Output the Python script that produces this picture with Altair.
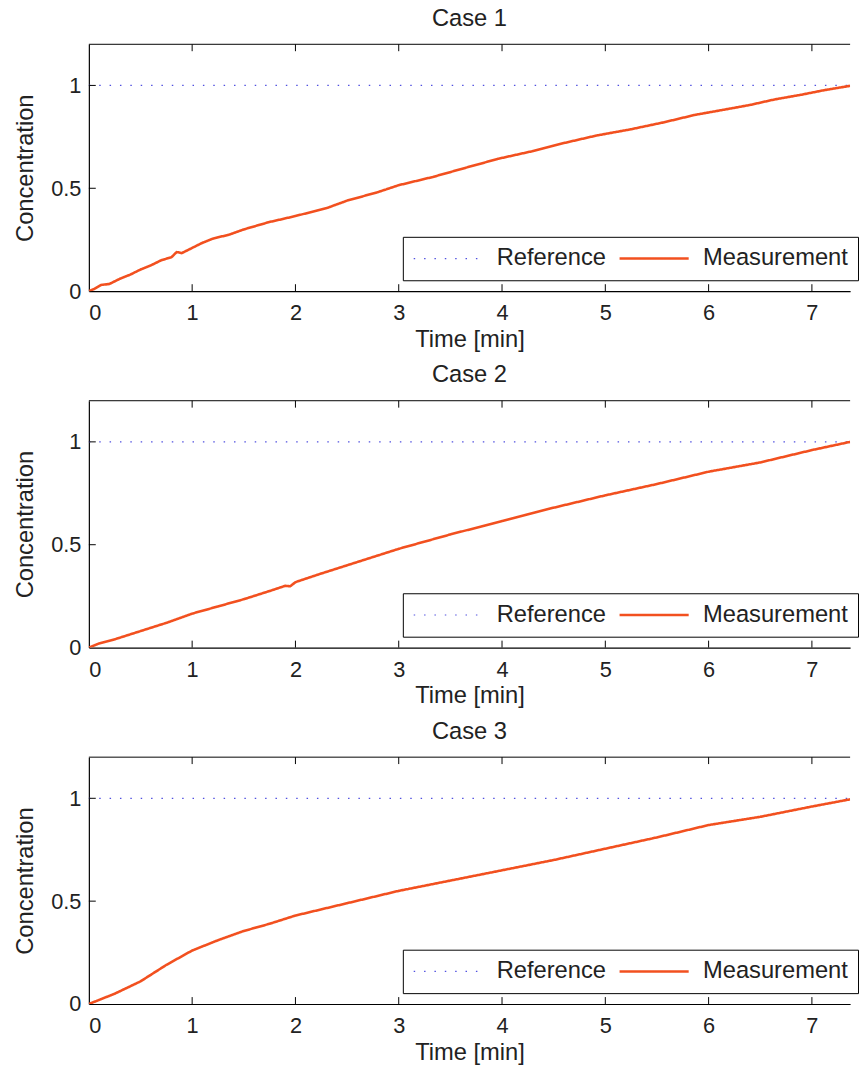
import altair as alt
import pandas as pd

# ---- data ----
case_titles = ["Case 1", "Case 2", "Case 3"]
series_names = ["Reference", "Measurement"]
ref_level = 1.0
x_ticks = [0, 1, 2, 3, 4, 5, 6, 7]
y_ticks = [0, 0.5, 1]
X_MAX = 7.37
Y_MAX = 1.2

t1 = [0, 0.05, 0.12, 0.2, 0.3, 0.4, 0.5, 0.6, 0.7, 0.8, 0.85, 0.9, 1.0, 1.1, 1.2, 1.36, 1.5,
      1.74, 2.0, 2.31, 2.5, 2.79, 3.0, 3.33, 3.65, 3.96, 4.29, 4.6, 4.92, 5.24, 5.56, 5.87,
      6.16, 6.4, 6.64, 6.9, 7.12, 7.37]
c1 = [0, 0.01, 0.03, 0.035, 0.06, 0.08, 0.105, 0.125, 0.15, 0.165, 0.19, 0.185, 0.21, 0.235,
      0.255, 0.275, 0.30, 0.335, 0.365, 0.405, 0.44, 0.48, 0.515, 0.555, 0.60, 0.643, 0.68,
      0.72, 0.757, 0.786, 0.82, 0.857, 0.883, 0.905, 0.932, 0.955, 0.977, 0.998]

t2 = [0, 0.1, 0.25, 0.5, 0.75, 1.0, 1.25, 1.5, 1.75, 1.9, 1.95, 2.0, 2.25, 2.5, 2.75, 3.0,
      3.5, 4.0, 4.5, 5.0, 5.5, 6.0, 6.5, 7.0, 7.37]
c2 = [0, 0.02, 0.04, 0.08, 0.12, 0.165, 0.20, 0.235, 0.275, 0.30, 0.298, 0.318, 0.36, 0.40,
      0.44, 0.48, 0.55, 0.615, 0.68, 0.74, 0.795, 0.855, 0.90, 0.96, 1.0]

t3 = [0, 0.1, 0.25, 0.5, 0.75, 1.0, 1.25, 1.5, 1.75, 2.0, 2.5, 3.0, 3.5, 4.0, 4.5, 5.0,
      5.5, 6.0, 6.5, 7.0, 7.37]
c3 = [0, 0.02, 0.05, 0.11, 0.19, 0.26, 0.31, 0.355, 0.39, 0.43, 0.49, 0.55, 0.60, 0.65,
      0.70, 0.755, 0.81, 0.87, 0.91, 0.96, 0.995]

REF_COLOR = "#5050e0"
MEAS_COLOR = "#f2501f"
FONT = "Liberation Sans"
W, H = 771, 250
TICK = 7


def panel(title, t, c):
    rows = [{"t": 0.0, "v": ref_level, "s": series_names[0]},
            {"t": X_MAX, "v": ref_level, "s": series_names[0]}]
    rows += [{"t": a, "v": b, "s": series_names[1]} for a, b in zip(t, c)]
    df = pd.DataFrame(rows)

    xs = alt.Scale(domain=[0, X_MAX], nice=False, zero=False)
    ys = alt.Scale(domain=[0, Y_MAX], nice=False)
    x_enc = alt.X("t:Q", scale=xs,
                  axis=alt.Axis(values=x_ticks, format="d", title="Time [min]"))
    y_enc = alt.Y("v:Q", scale=ys,
                  axis=alt.Axis(values=y_ticks, format="~g", title="Concentration"))

    leg = dict(title=None, orient="none", legendX=318, legendY=195,
               direction="horizontal", symbolType="stroke", symbolSize=4900,
               clipHeight=24,
               fillColor="white", strokeColor="black", padding=10,
               labelFontSize=24, labelFont=FONT, labelColor="#222222",
               labelOffset=13, columnPadding=12, labelLimit=400)

    lines = alt.Chart(df).mark_line(clip=True).encode(
        x=x_enc, y=y_enc,
        color=alt.Color("s:N", scale=alt.Scale(domain=series_names, range=[REF_COLOR, MEAS_COLOR]),
                        legend=alt.Legend(**leg)),
        strokeDash=alt.StrokeDash("s:N", scale=alt.Scale(domain=series_names, range=[[1.5, 9], [1, 0]]),
                                  legend=alt.Legend(**leg)),
        strokeWidth=alt.StrokeWidth("s:N", scale=alt.Scale(domain=series_names, range=[1.2, 2.6]),
                                    legend=alt.Legend(**leg)),
    )

    bt = pd.DataFrame({"t": x_ticks[1:]})
    bottom_ticks = alt.Chart(bt).mark_rule(color="black", strokeWidth=1).encode(
        x=x_enc, y=alt.value(H), y2=alt.value(H - TICK))
    top_ticks = alt.Chart(bt).mark_rule(color="black", strokeWidth=1).encode(
        x=x_enc, y=alt.value(0), y2=alt.value(TICK))
    lt = pd.DataFrame({"v": y_ticks[1:]})
    left_ticks = alt.Chart(lt).mark_rule(color="black", strokeWidth=1).encode(
        y=y_enc, x=alt.value(0), x2=alt.value(TICK))
    top_border = alt.Chart(pd.DataFrame({"t": [0]})).mark_rule(color="black", strokeWidth=1).encode(
        x=alt.value(0), x2=alt.value(W), y=alt.value(0))

    return alt.layer(lines, bottom_ticks, top_ticks, left_ticks, top_border).properties(
        width=W, height=H,
        title=alt.TitleParams(title, fontSize=24, font=FONT, fontWeight="normal",
                              color="#222222", offset=13, anchor="middle"),
    )


panels = [panel(case_titles[0], t1, c1),
          panel(case_titles[1], t2, c2),
          panel(case_titles[2], t3, c3)]

chart = alt.vconcat(*panels, spacing=12).resolve_legend(
    color="independent", strokeDash="independent", strokeWidth="independent"
).properties(
    padding={"left": 13, "top": 0, "right": 0, "bottom": 0}
).configure_view(
    strokeWidth=0
).configure_axis(
    ticks=False, domainColor="black", domainWidth=1.2, grid=False,
    labelFont=FONT, labelFontSize=22, labelColor="#222222", labelPadding=8,
    titleFont=FONT, titleFontSize=24, titleFontWeight="normal", titleColor="#222222",
).configure_axisX(
    labelPadding=12, titlePadding=4
).configure_axisY(
    labelPadding=8, titlePadding=14
)

chart.save("out.html", embed_options={"renderer": "svg", "actions": False})
